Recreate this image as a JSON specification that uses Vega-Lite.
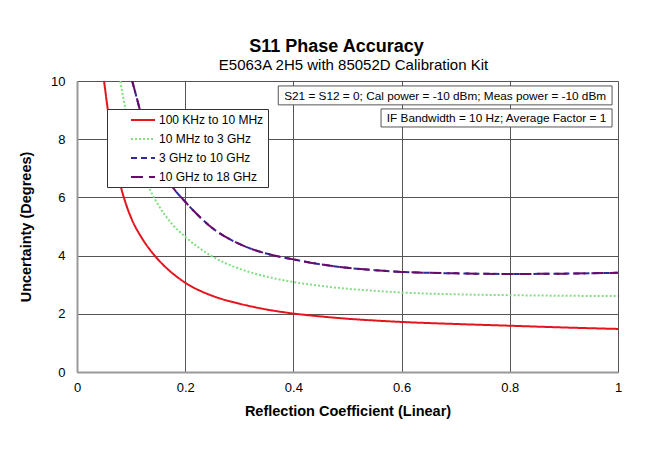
{
  "$schema": "https://vega.github.io/schema/vega-lite/v6.json",
  "width": 541,
  "height": 291,
  "autosize": "none",
  "padding": {"left": 77, "top": 81, "right": 51, "bottom": 78},
  "background": "white",
  "config": {"font": "Liberation Sans", "view": {"stroke": null}},
  "title": {"text": "S11 Phase Accuracy", "fontSize": 18, "fontWeight": "bold", "anchor": "middle", "dx": -11, "offset": 2, "color": "#000"},
  "data": {"values": [
    {"series": "100 KHz to 10 MHz", "x": 0.05, "y": 10.0},
    {"series": "100 KHz to 10 MHz", "x": 0.06, "y": 8.6},
    {"series": "100 KHz to 10 MHz", "x": 0.07, "y": 7.4},
    {"series": "100 KHz to 10 MHz", "x": 0.08, "y": 6.45},
    {"series": "100 KHz to 10 MHz", "x": 0.09, "y": 5.8},
    {"series": "100 KHz to 10 MHz", "x": 0.10, "y": 5.3},
    {"series": "100 KHz to 10 MHz", "x": 0.12, "y": 4.6},
    {"series": "100 KHz to 10 MHz", "x": 0.14, "y": 4.08},
    {"series": "100 KHz to 10 MHz", "x": 0.16, "y": 3.67},
    {"series": "100 KHz to 10 MHz", "x": 0.18, "y": 3.34},
    {"series": "100 KHz to 10 MHz", "x": 0.20, "y": 3.07},
    {"series": "100 KHz to 10 MHz", "x": 0.25, "y": 2.62},
    {"series": "100 KHz to 10 MHz", "x": 0.30, "y": 2.35},
    {"series": "100 KHz to 10 MHz", "x": 0.35, "y": 2.15},
    {"series": "100 KHz to 10 MHz", "x": 0.40, "y": 2.01},
    {"series": "100 KHz to 10 MHz", "x": 0.45, "y": 1.91},
    {"series": "100 KHz to 10 MHz", "x": 0.50, "y": 1.83},
    {"series": "100 KHz to 10 MHz", "x": 0.55, "y": 1.77},
    {"series": "100 KHz to 10 MHz", "x": 0.60, "y": 1.72},
    {"series": "100 KHz to 10 MHz", "x": 0.70, "y": 1.65},
    {"series": "100 KHz to 10 MHz", "x": 0.80, "y": 1.59},
    {"series": "100 KHz to 10 MHz", "x": 0.90, "y": 1.53},
    {"series": "100 KHz to 10 MHz", "x": 1.00, "y": 1.48},
    {"series": "10 MHz to 3 GHz", "x": 0.08, "y": 10.0},
    {"series": "10 MHz to 3 GHz", "x": 0.09, "y": 9.0},
    {"series": "10 MHz to 3 GHz", "x": 0.10, "y": 8.2},
    {"series": "10 MHz to 3 GHz", "x": 0.11, "y": 7.55},
    {"series": "10 MHz to 3 GHz", "x": 0.12, "y": 7.0},
    {"series": "10 MHz to 3 GHz", "x": 0.135, "y": 6.27},
    {"series": "10 MHz to 3 GHz", "x": 0.15, "y": 5.75},
    {"series": "10 MHz to 3 GHz", "x": 0.175, "y": 5.1},
    {"series": "10 MHz to 3 GHz", "x": 0.20, "y": 4.65},
    {"series": "10 MHz to 3 GHz", "x": 0.25, "y": 3.97},
    {"series": "10 MHz to 3 GHz", "x": 0.30, "y": 3.55},
    {"series": "10 MHz to 3 GHz", "x": 0.35, "y": 3.28},
    {"series": "10 MHz to 3 GHz", "x": 0.40, "y": 3.09},
    {"series": "10 MHz to 3 GHz", "x": 0.45, "y": 2.96},
    {"series": "10 MHz to 3 GHz", "x": 0.50, "y": 2.86},
    {"series": "10 MHz to 3 GHz", "x": 0.55, "y": 2.79},
    {"series": "10 MHz to 3 GHz", "x": 0.60, "y": 2.73},
    {"series": "10 MHz to 3 GHz", "x": 0.70, "y": 2.67},
    {"series": "10 MHz to 3 GHz", "x": 0.80, "y": 2.64},
    {"series": "10 MHz to 3 GHz", "x": 0.90, "y": 2.62},
    {"series": "10 MHz to 3 GHz", "x": 1.00, "y": 2.61},
    {"series": "3 GHz to 10 GHz", "x": 0.102, "y": 10.0},
    {"series": "3 GHz to 10 GHz", "x": 0.11, "y": 9.45},
    {"series": "3 GHz to 10 GHz", "x": 0.12, "y": 8.75},
    {"series": "3 GHz to 10 GHz", "x": 0.135, "y": 7.9},
    {"series": "3 GHz to 10 GHz", "x": 0.15, "y": 7.2},
    {"series": "3 GHz to 10 GHz", "x": 0.175, "y": 6.4},
    {"series": "3 GHz to 10 GHz", "x": 0.20, "y": 5.85},
    {"series": "3 GHz to 10 GHz", "x": 0.25, "y": 4.95},
    {"series": "3 GHz to 10 GHz", "x": 0.30, "y": 4.4},
    {"series": "3 GHz to 10 GHz", "x": 0.35, "y": 4.07},
    {"series": "3 GHz to 10 GHz", "x": 0.40, "y": 3.87},
    {"series": "3 GHz to 10 GHz", "x": 0.45, "y": 3.7},
    {"series": "3 GHz to 10 GHz", "x": 0.50, "y": 3.58},
    {"series": "3 GHz to 10 GHz", "x": 0.55, "y": 3.5},
    {"series": "3 GHz to 10 GHz", "x": 0.60, "y": 3.44},
    {"series": "3 GHz to 10 GHz", "x": 0.70, "y": 3.39},
    {"series": "3 GHz to 10 GHz", "x": 0.80, "y": 3.37},
    {"series": "3 GHz to 10 GHz", "x": 0.90, "y": 3.38},
    {"series": "3 GHz to 10 GHz", "x": 1.00, "y": 3.41},
    {"series": "10 GHz to 18 GHz", "x": 0.102, "y": 10.0},
    {"series": "10 GHz to 18 GHz", "x": 0.11, "y": 9.45},
    {"series": "10 GHz to 18 GHz", "x": 0.12, "y": 8.75},
    {"series": "10 GHz to 18 GHz", "x": 0.135, "y": 7.9},
    {"series": "10 GHz to 18 GHz", "x": 0.15, "y": 7.2},
    {"series": "10 GHz to 18 GHz", "x": 0.175, "y": 6.4},
    {"series": "10 GHz to 18 GHz", "x": 0.20, "y": 5.85},
    {"series": "10 GHz to 18 GHz", "x": 0.25, "y": 4.95},
    {"series": "10 GHz to 18 GHz", "x": 0.30, "y": 4.4},
    {"series": "10 GHz to 18 GHz", "x": 0.35, "y": 4.07},
    {"series": "10 GHz to 18 GHz", "x": 0.40, "y": 3.87},
    {"series": "10 GHz to 18 GHz", "x": 0.45, "y": 3.7},
    {"series": "10 GHz to 18 GHz", "x": 0.50, "y": 3.58},
    {"series": "10 GHz to 18 GHz", "x": 0.55, "y": 3.5},
    {"series": "10 GHz to 18 GHz", "x": 0.60, "y": 3.44},
    {"series": "10 GHz to 18 GHz", "x": 0.70, "y": 3.39},
    {"series": "10 GHz to 18 GHz", "x": 0.80, "y": 3.37},
    {"series": "10 GHz to 18 GHz", "x": 0.90, "y": 3.38},
    {"series": "10 GHz to 18 GHz", "x": 1.00, "y": 3.41}
  ]},
  "layer": [
    {
      "mark": {"type": "line", "strokeWidth": 2, "interpolate": "monotone", "clip": true},
      "encoding": {
        "x": {"field": "x", "type": "quantitative",
          "scale": {"domain": [0, 1], "nice": false, "zero": true},
          "axis": {"values": [0, 0.2, 0.4, 0.6, 0.8, 1], "format": "~g", "title": "Reflection Coefficient (Linear)",
            "titleFontSize": 14.5, "titleFontWeight": "bold", "titleColor": "#000", "titlePadding": 10,
            "labelFontSize": 13, "labelColor": "#000", "labelPadding": 9, "labelFlush": false,
            "ticks": false, "domainColor": "#999", "domainWidth": 2,
            "grid": true, "gridColor": "#555", "gridOpacity": 1, "gridWidth": 1}},
        "y": {"field": "y", "type": "quantitative",
          "scale": {"domain": [0, 10], "nice": false},
          "axis": {"values": [0, 2, 4, 6, 8, 10], "title": "Uncertainty (Degrees)",
            "titleFontSize": 14.5, "titleFontWeight": "bold", "titleColor": "#000", "titlePadding": 17,
            "labelFontSize": 13, "labelColor": "#000", "labelPadding": 12,
            "ticks": false, "domainColor": "#999", "domainWidth": 2,
            "grid": true, "gridColor": "#555", "gridOpacity": 1, "gridWidth": 1}},
        "color": {"field": "series", "type": "nominal",
          "scale": {"domain": ["100 KHz to 10 MHz", "10 MHz to 3 GHz", "3 GHz to 10 GHz", "10 GHz to 18 GHz"],
                    "range": ["#e3141c", "#7ee07e", "#2b2b9c", "#6a0a6a"]},
          "legend": {"title": null, "orient": "none", "legendX": 30, "legendY": 28,
            "fillColor": "white", "strokeColor": "#333", "padding": 4,
            "symbolType": "M-2,0H2", "symbolSize": 144, "symbolStrokeWidth": 2, "symbolOffset": 25,
            "labelFontSize": 12, "labelColor": "#000", "rowPadding": 6, "labelOffset": 9,
            "labelExpr": "datum.label + '             '"}},
        "strokeDash": {"field": "series", "type": "nominal",
          "scale": {"domain": ["100 KHz to 10 MHz", "10 MHz to 3 GHz", "3 GHz to 10 GHz", "10 GHz to 18 GHz"],
                    "range": [[1, 0], [2, 2], [6, 4], [12, 6]]},
          "legend": null},
        "order": {"field": "x", "type": "quantitative"}
      }
    },
    {
      "data": {"values": [{"label": "E5063A 2H5 with 85052D Calibration Kit"}]},
      "mark": {"type": "text", "fontSize": 15, "color": "#000", "baseline": "alphabetic", "align": "center", "dx": 6, "dy": -11},
      "encoding": {"x": {"datum": 0.5}, "y": {"datum": 10}, "text": {"field": "label"}}
    },
    {
      "data": {"values": [{"label": "S21 = S12 = 0; Cal power = -10 dBm; Meas power = -10 dBm"}]},
      "mark": {"type": "rect", "fill": "white", "stroke": "#555", "strokeWidth": 1},
      "encoding": {"x": {"datum": 0.372}, "x2": {"datum": 0.989}, "y": {"datum": 9.83}, "y2": {"datum": 9.18}}
    },
    {
      "data": {"values": [{"label": "S21 = S12 = 0; Cal power = -10 dBm; Meas power = -10 dBm"}]},
      "mark": {"type": "text", "fontSize": 11.8, "color": "#000", "baseline": "middle", "align": "center"},
      "encoding": {"x": {"datum": 0.6805}, "y": {"datum": 9.5}, "text": {"field": "label"}}
    },
    {
      "data": {"values": [{"label": "IF Bandwidth = 10 Hz; Average Factor = 1"}]},
      "mark": {"type": "rect", "fill": "white", "stroke": "#555", "strokeWidth": 1},
      "encoding": {"x": {"datum": 0.562}, "x2": {"datum": 0.989}, "y": {"datum": 9.04}, "y2": {"datum": 8.42}}
    },
    {
      "data": {"values": [{"label": "IF Bandwidth = 10 Hz; Average Factor = 1"}]},
      "mark": {"type": "text", "fontSize": 11.8, "color": "#000", "baseline": "middle", "align": "center"},
      "encoding": {"x": {"datum": 0.7755}, "y": {"datum": 8.73}, "text": {"field": "label"}}
    }
  ]
}
